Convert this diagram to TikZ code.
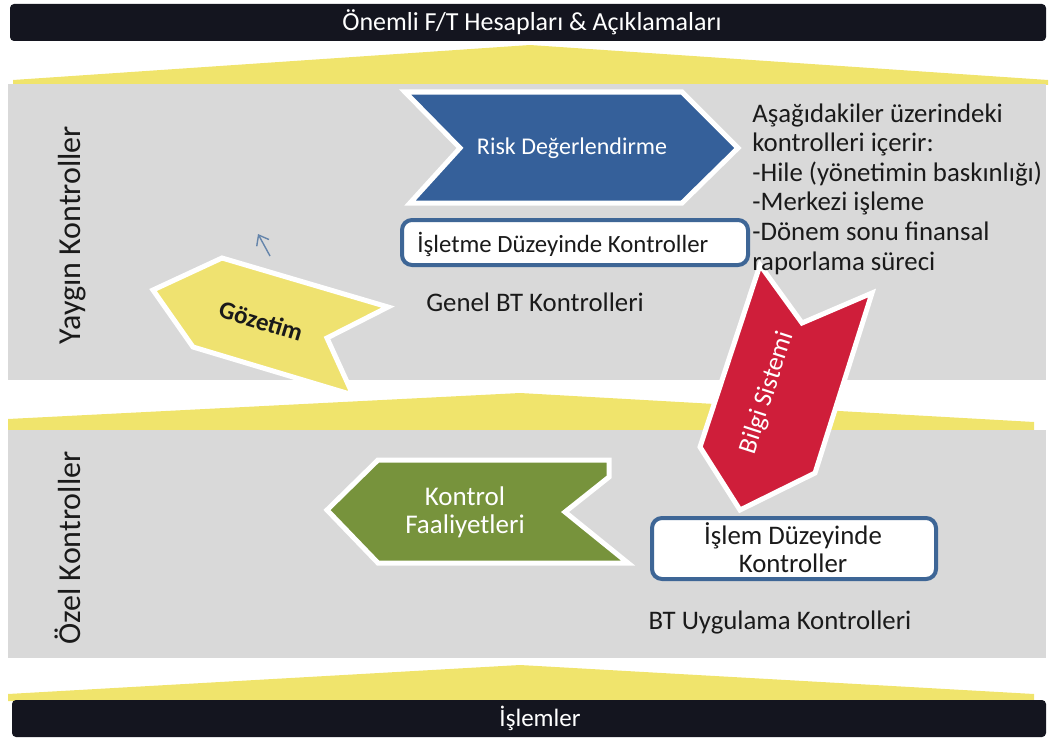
\documentclass[tikz,border=0pt]{standalone}
\usepackage{fontspec}
\setmainfont{Carlito}
\usetikzlibrary{arrows.meta}

\definecolor{barblack}{HTML}{14151F}
\definecolor{bandgray}{HTML}{D9D9D9}
\definecolor{roofyellow}{HTML}{F0E46C}
\definecolor{riskblue}{HTML}{35609A}
\definecolor{boxblue}{HTML}{3E6696}
\definecolor{redarrow}{HTML}{CF1E3A}
\definecolor{greenarrow}{HTML}{77933C}
\definecolor{gozyellow}{HTML}{EFE270}
\definecolor{inktext}{HTML}{1A1A1A}

\begin{document}
\begin{tikzpicture}[x=0.5pt, y=-0.5pt,
  darkbar/.style={fill=barblack, rounded corners=2pt},
  roof/.style={fill=roofyellow},
  band/.style={fill=bandgray},
  flowarrow/.style={draw=white, line width=2.5pt, line join=miter},
  ctrlbox/.style={draw=boxblue, line width=2pt, fill=white, rounded corners=5pt},
  bartext/.style={text=white, font=\fontsize{13}{15}\selectfont},
  plaintext/.style={text=inktext, font=\fontsize{13.4}{14}\selectfont},
  sidetext/.style={text=inktext, font=\fontsize{16}{18}\selectfont, rotate=90},
  smallarrow/.style={-{Straight Barb[length=4.5pt,width=7pt]}, draw=boxblue!80, line width=0.7pt}]

\useasboundingbox (0,0) rectangle (1052,738);

% Bars, roofs and bands
\fill[darkbar] (10,4) rectangle (1046,41);
\fill[roof] (13,85) -- (13,80) -- (530,45) -- (1048,80) -- (1048,85) -- cycle;
\fill[band] (8,84) rectangle (1046,380);
\fill[roof] (8,430) -- (8,419) -- (520,393) -- (1034,422) -- (1034,430) -- cycle;
\fill[band] (8,430) rectangle (1046,658);
\fill[roof] (8,701) -- (8,694) -- (520,665) -- (1034,694) -- (1034,701) -- cycle;
\fill[darkbar] (12,700) rectangle (1046,737);

% Define ends of the small pointer
\coordinate (ptrTail) at (270,256);
\coordinate (ptrHead) at (258,234);

% Risk assessment chevron
\filldraw[flowarrow, fill=riskblue] (405,92) -- (682,92) -- (738,148) -- (682,203) -- (410,203) -- (460,148) -- cycle;

% Entity level box
\draw[ctrlbox] (402,220) rectangle (748,265);

% Monitoring arrow
\filldraw[flowarrow, fill=gozyellow] (153,290) -- (222,258) -- (388,307) -- (327,338) -- (353,395) -- (193,347) -- cycle;
\draw[smallarrow] (ptrTail) -- (ptrHead);

% Information system arrow
\filldraw[flowarrow, fill=redarrow] (760,265) -- (802,323) -- (872,293) -- (815,473) -- (740,510) -- (700,447) -- cycle;

% Control activities arrow
\filldraw[flowarrow, fill=greenarrow] (327,510) -- (378,460) -- (609,460) -- (609,477) -- (565,512) -- (628,563) -- (378,563) -- cycle;

% Transaction level box
\draw[ctrlbox] (652,518) rectangle (936,579);

% Labels
\node[bartext] (title) at (532,22) {Önemli F/T Hesapları \& Açıklamaları};
\node[bartext, font=\fontsize{12.5}{15}\selectfont] (islemler) at (540,718) {İşlemler};
\node[sidetext] (yaygin) at (72,235) {Yaygın Kontroller};
\node[sidetext] (ozel) at (68,548) {Özel Kontroller};
\node[text=white, font=\fontsize{12}{14}\selectfont] (risk) at (572,148) {Risk Değerlendirme};
\node[plaintext, anchor=west, inner sep=0pt, font=\fontsize{12.4}{14}\selectfont] (isletme) at (417,244) {İşletme Düzeyinde Kontroller};
\node[plaintext] (genel) at (535,302) {Genel BT Kontrolleri};
\node[plaintext, anchor=north west, align=left, inner sep=0pt, font=\fontsize{13.4}{14.8}\selectfont] (notes) at (752,103)
  {Aşağıdakiler üzerindeki\\kontrolleri içerir:\\-Hile (yönetimin baskınlığı)\\-Merkezi işleme\\-Dönem sonu finansal\\raporlama süreci};
\node[text=inktext, font=\bfseries\fontsize{12.5}{14}\selectfont, rotate=-17] (gozetim) at (261,321) {Gözetim};
\node[text=white, font=\fontsize{13}{15}\selectfont, rotate=72] (bilgi) at (767,393) {Bilgi Sistemi};
\node[text=white, align=center, font=\fontsize{13.5}{14}\selectfont] (faaliyet) at (465,512) {Kontrol\\Faaliyetleri};
\node[plaintext, align=center] (islem) at (793,548) {İşlem Düzeyinde\\Kontroller};
\node[plaintext] (uygulama) at (780,622) {BT Uygulama Kontrolleri};

\end{tikzpicture}
\end{document}
